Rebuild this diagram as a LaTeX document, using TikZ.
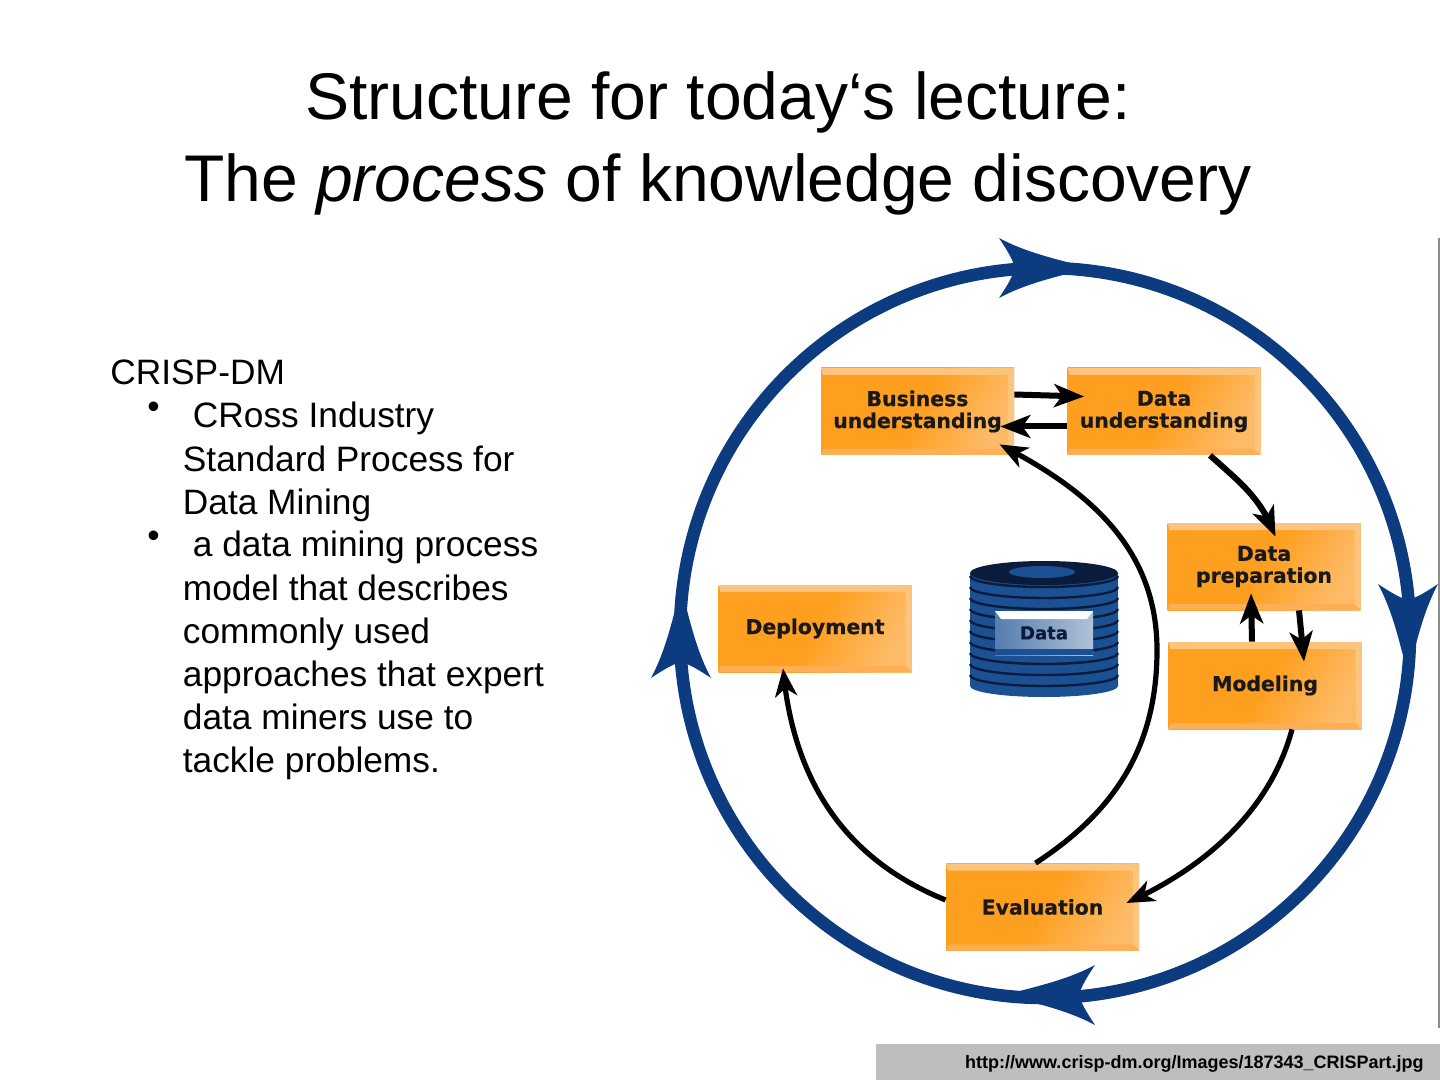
\documentclass[tikz,border=0pt]{standalone}
\usepackage{fontspec}
\setmainfont{Liberation Sans}
\newfontfamily\boxfont{DejaVu Sans}[BoldFeatures={FakeBold=0.6}]
\usetikzlibrary{arrows.meta,bending,calc}
\definecolor{ringblue}{HTML}{0C3B80}
\definecolor{discblue}{HTML}{1B5192}
\definecolor{discdark}{HTML}{0A1B3C}
\definecolor{boxorange}{HTML}{FF9F1F}
\definecolor{boxlight}{HTML}{FDBB68}
\definecolor{bevelpale}{HTML}{FDC47E}
\definecolor{bevelmid}{HTML}{FCAF55}
\definecolor{barstone}{HTML}{BEBEBE}
\tikzset{
  titletext/.style={font=\fontsize{33}{41}\selectfont, align=center, inner sep=0pt},
  bodytext/.style={font=\fontsize{17.65}{21.6}\selectfont, align=left, inner sep=0pt,
                   anchor=north west},
  % orange process boxes
  stagebox/.style={rectangle, minimum width=96.5pt, minimum height=43.5pt,
                   inner sep=0pt, align=center, text=black!90,
                   font=\boxfont\bfseries\fontsize{10.2}{11}\selectfont,
                   left color=boxorange, right color=boxlight,
                   middle color=boxorange, shading angle=60,
                   path picture={
                     \fill[bevelpale] (path picture bounding box.north west)
                       -- (path picture bounding box.north east)
                       -- ([xshift=-3pt,yshift=-3.5pt]path picture bounding box.north east)
                       -- ([xshift=1pt,yshift=-3.5pt]path picture bounding box.north west) -- cycle;
                     \fill[bevelmid] (path picture bounding box.south west)
                       -- (path picture bounding box.south east)
                       -- ([xshift=-3pt,yshift=3pt]path picture bounding box.south east)
                       -- ([xshift=1pt,yshift=3pt]path picture bounding box.south west) -- cycle;
                     \fill[bevelpale] (path picture bounding box.north east)
                       -- (path picture bounding box.south east)
                       -- ([xshift=-3pt,yshift=3pt]path picture bounding box.south east)
                       -- ([xshift=-3pt,yshift=-3.5pt]path picture bounding box.north east) -- cycle;
                   }},
  databox/.style={rectangle, minimum width=49pt, minimum height=22pt, inner sep=0pt,
                  left color=discblue!75!white, middle color=discblue!10!white,
                  right color=discblue!35!white, text=discdark,
                  font=\boxfont\bfseries\fontsize{9}{11}\selectfont,
                  path picture={
                    \fill[white] (path picture bounding box.north west)
                      -- (path picture bounding box.north east)
                      -- ([xshift=-3pt,yshift=-4pt]path picture bounding box.north east)
                      -- ([xshift=3pt,yshift=-4pt]path picture bounding box.north west) -- cycle;
                    \fill[discblue] (path picture bounding box.south west)
                      -- (path picture bounding box.south east)
                      -- ([yshift=3pt]path picture bounding box.south east)
                      -- ([yshift=3pt]path picture bounding box.south west) -- cycle;
                  }},
  stepline/.style={-{Stealth[length=15pt, width=11.5pt, inset=4pt]}, line width=3pt, black},
  loopline/.style={-{Stealth[length=14pt, width=11pt, inset=4pt]}, line width=2.6pt, black},
  ringline/.style={line width=6.3pt, draw=ringblue},
  discline/.style={draw=discdark, line width=1.2pt},
  ringhead/.pic={
    \fill[ringblue] (14,0) .. controls (-14,-8) and (-46,-14) .. (-76,-30)
      .. controls (-68,-18) and (-62,-8) .. (-60,0)
      .. controls (-62,8) and (-68,18) .. (-76,30)
      .. controls (-46,14) and (-14,8) .. (14,0) -- cycle;
  },
}
\begin{document}
\begin{tikzpicture}[x=0.5pt, y=-0.5pt]
  \useasboundingbox (0,0) rectangle (1440,1080);

  \node[titletext] (title) at (718,143) {Structure for today‘s lecture:\\The \textit{process} of knowledge discovery};

  \node[bodytext] (crisp) at (110,359) {CRISP-DM};
  \node[bodytext] (bulletone) at (147,402) {•};
  \node[bodytext] (itemone) at (182.5,402) {\hspace{5pt}CRoss Industry\\Standard Process for\\Data Mining};
  \node[bodytext] (bullettwo) at (147,531) {•};
  \node[bodytext] (itemtwo) at (182.5,531) {\hspace{5pt}a data mining process\\model that describes\\commonly used\\approaches that expert\\data miners use to\\tackle problems.};

  % outer cycle
  \coordinate (ringcentre) at (1045,633);
  \coordinate (ringtop) at (1075,268);
  \coordinate (ringright) at (1408,660);
  \coordinate (ringbottom) at (1019,995);
  \coordinate (ringleft) at (681,602);
  \draw[ringline] (ringcentre) circle[radius=365];
  \foreach \ringname/\ringrot in {ringtop/0, ringright/-90, ringbottom/180, ringleft/90}
    \pic[rotate=\ringrot] at (\ringname) {ringhead};

  % data stack
  \fill[discblue] (970,573) -- (1118,573) -- (1118,686)
    arc[start angle=0, end angle=180, x radius=74, y radius=11] -- cycle;
  \foreach \discy in {576,587,598,609,620,631,642,653,664,675}
    \draw[discline] (970,\discy) arc[start angle=180, end angle=0, x radius=74, y radius=11];
  \fill[discdark] (1044,573) ellipse[x radius=74, y radius=12];
  \fill[discblue] (1042,572) ellipse[x radius=33, y radius=6];
  \node[databox] (datalabel) at (1044,633) {Data};

  \node[stagebox] (business)   at (917.5,411.5) {Business\\understanding};
  \node[stagebox] (dataunder)  at (1164,411.5)  {Data\\understanding};
  \node[stagebox] (dataprep)   at (1264,566.5)  {Data\\preparation};
  \node[stagebox] (modeling)   at (1265,685.5)  {Modeling};
  \node[stagebox] (deployment) at (815,628.5)   {Deployment};
  \node[stagebox] (evaluation) at (1042.5,907)  {Evaluation};

  \draw[stepline] ($(business.east)+(0,-17)$) -- ($(dataunder.west)+(17,-15)$);
  \draw[stepline] ($(dataunder.west)+(0,15)$) -- ($(business.east)+(-14,15)$);
  \draw[stepline] ($(dataunder.south)+(46,0)$) to[out=-42,in=110] ($(dataprep.north)+(11.5,14)$);
  \draw[stepline] ($(modeling.north)+(-13,0)$) -- ($(dataprep.south)+(-13,-17)$);
  \draw[stepline] ($(dataprep.south)+(35,0)$) -- ($(modeling.north)+(39,20)$);
  \draw[loopline] ($(modeling.south)+(27,0)$) to[out=-105,in=24,looseness=0.9] ($(evaluation.east)+(-13,-4)$);
  \coordinate (loopturn) at (1157,650);
  \draw[loopline] ($(evaluation.north)+(-7,0)$) to[out=33,in=-90] (loopturn) to[out=90,in=-27] ($(business.south)+(82,-11)$);
  \draw[loopline] ($(evaluation.west)+(0,-7)$) to[out=158,in=-85] ($(deployment.south)+(-32,-4)$);

  % source bar
  \node[rectangle, fill=barstone, minimum width=282pt, minimum height=18pt, inner sep=0pt,
        anchor=south east] (sourcebar) at (1440,1080) {};
  \node[font=\bfseries\fontsize{9}{10}\selectfont, anchor=east, inner sep=0pt] (sourcetext)
    at (1424,1064) {http://www.crisp-dm.org/Images/187343\_CRISPart.jpg};
  \coordinate (edgetop) at (1439,238);
  \coordinate (edgeend) at (1439,1028);
  \draw[black!45, line width=0.6pt] (edgetop) -- (edgeend);
\end{tikzpicture}
\end{document}
